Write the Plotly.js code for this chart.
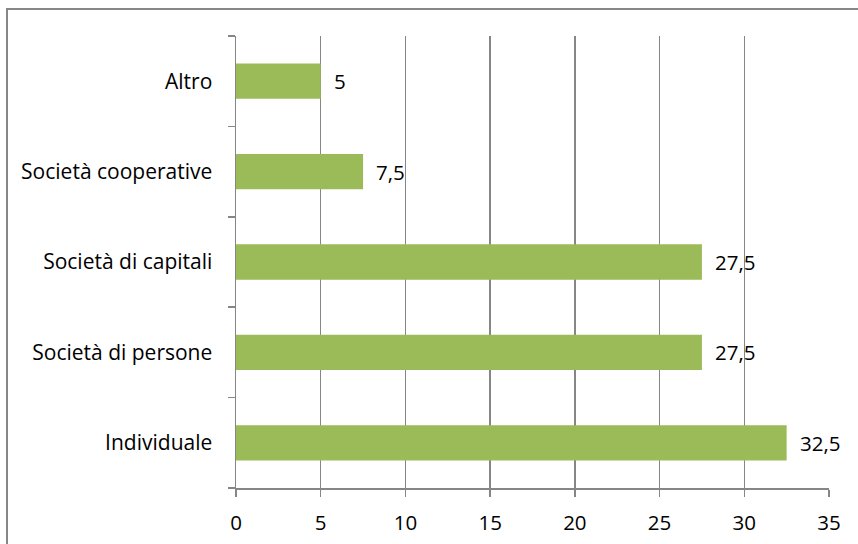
<!DOCTYPE html>
<html>
<head>
<meta charset="utf-8">
<script src="https://cdn.plot.ly/plotly-3.0.1.min.js"></script>
<style>
  html, body { margin: 0; padding: 0; width: 858px; height: 544px; overflow: hidden; background: #ffffff; }
  #frame { position: absolute; left: 6px; top: 8px; width: 900px; height: 600px;
           border-left: 2px solid #878787; border-top: 2px solid #878787; box-sizing: border-box; }
  #chart { position: absolute; left: 0; top: 0; width: 858px; height: 544px; }
</style>
</head>
<body>
<div id="frame"></div>
<div id="chart"></div>
<script>
// Legal form of the businesses, percentage share
const categories = ["Individuale", "Società di persone", "Società di capitali", "Società cooperative", "Altro"];
const values = [32.5, 27.5, 27.5, 7.5, 5];
const xTicks = [0, 5, 10, 15, 20, 25, 30, 35];

const fontFamily = "'Open Sans', Lato, sans-serif";
const gray = "#868686";

// Italian decimal comma for the value labels
const labelText = values.map(v => String(v).replace(".", ","));

const trace = {
  type: "bar",
  orientation: "h",
  x: values,
  y: categories,
  marker: { color: "#9BBB59", line: { width: 0 } },
  hoverinfo: "x+y"
};

const annotations = values.map((v, i) => ({
  x: v, y: categories[i], xref: "x", yref: "y",
  text: labelText[i], showarrow: false,
  xanchor: "left", yanchor: "middle", xshift: 11,
  font: { family: fontFamily, size: 20.5, color: "#000000" }
}));

const layout = {
  width: 858, height: 544,
  margin: { l: 236, r: 29, t: 36, b: 56, pad: 0 },
  paper_bgcolor: "rgba(0,0,0,0)",
  plot_bgcolor: "rgba(0,0,0,0)",
  bargap: 0.61,
  showlegend: false,
  font: { family: fontFamily, size: 20.5, color: "#000000" },
  xaxis: {
    range: [0, 35],
    tickvals: xTicks,
    ticktext: xTicks.map(String),
    showgrid: true, gridcolor: gray, gridwidth: 1.5,
    zeroline: false,
    showline: true, linecolor: gray, linewidth: 1.5,
    ticks: "outside", ticklen: 7, tickcolor: gray, tickwidth: 1.5,
    ticklabelstandoff: 9,
    tickfont: { family: fontFamily, size: 20.5, color: "#000000" },
    fixedrange: true
  },
  yaxis: {
    type: "category",
    categoryorder: "array",
    categoryarray: categories,
    range: [-0.5, 4.5],
    showgrid: false, zeroline: false,
    showline: true, linecolor: gray, linewidth: 1.5,
    ticks: "outside", tickson: "boundaries", ticklen: 7, tickcolor: gray, tickwidth: 1.5,
    ticklabelstandoff: 18,
    tickfont: { family: fontFamily, size: 21, color: "#000000" },
    fixedrange: true
  },
  annotations: annotations
};

Plotly.newPlot("chart", [trace], layout, { displayModeBar: false, staticPlot: true });
</script>
</body>
</html>
